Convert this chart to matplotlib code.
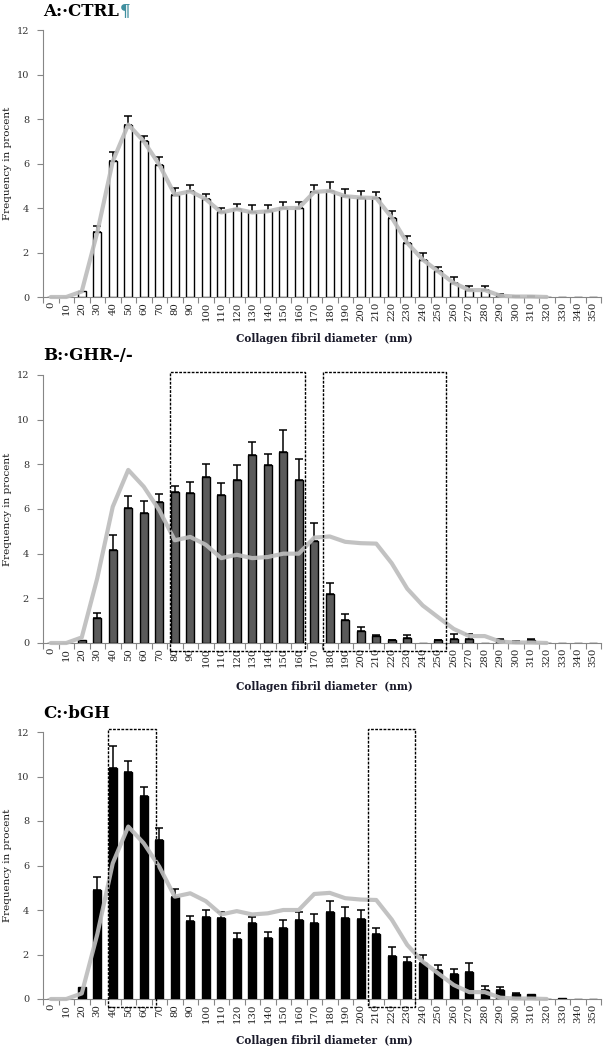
import matplotlib.pyplot as plt
import numpy as np
from matplotlib.patches import Rectangle

diameters = [str(d) for d in range(0, 360, 10)]

ctrl = [0, 0, 0.25, 2.9, 6.1, 7.75, 7.0, 5.95, 4.6, 4.75, 4.4, 3.8, 3.95, 3.8, 3.85, 4.0, 4.0, 4.72,
        4.77, 4.53, 4.47, 4.45, 3.57, 2.43, 1.68, 1.15, 0.63, 0.31, 0.31, 0.06, 0.02, 0.02, 0, 0, 0, 0]
ctrl_sem = [0, 0, 0, 0.3, 0.4, 0.4, 0.25, 0.35, 0.3, 0.3, 0.25, 0.2, 0.25, 0.35, 0.3, 0.25, 0.25, 0.33,
            0.4, 0.32, 0.3, 0.27, 0.3, 0.31, 0.3, 0.18, 0.27, 0.2, 0.2, 0.06, 0.04, 0.04, 0, 0, 0, 0]

ghr = [0, 0, 0.12, 1.1, 4.15, 6.05, 5.8, 6.3, 6.75, 6.7, 7.45, 6.62, 7.32, 8.42, 7.97, 8.55, 7.32, 4.56,
       2.18, 1.05, 0.52, 0.31, 0.12, 0.21, 0, 0.12, 0.2, 0.2, 0, 0.12, 0, 0.12, 0, 0, 0, 0]
ghr_sem = [0, 0, 0, 0.25, 0.7, 0.55, 0.55, 0.35, 0.3, 0.5, 0.55, 0.55, 0.63, 0.58, 0.5, 1.0, 0.93, 0.82,
           0.51, 0.24, 0.2, 0.04, 0.03, 0.14, 0, 0.02, 0.2, 0.19, 0, 0.06, 0.07, 0.08, 0, 0, 0, 0]

bgh = [0, 0, 0.55, 4.9, 10.4, 10.2, 9.12, 7.14, 4.6, 3.51, 3.7, 3.66, 2.69, 3.4, 2.73, 3.2, 3.53, 3.4,
       3.92, 3.63, 3.59, 2.94, 1.94, 1.67, 1.61, 1.32, 1.12, 1.23, 0.39, 0.39, 0.24, 0.21, 0, 0.05, 0, 0]
bgh_sem = [0, 0, 0, 0.6, 0.95, 0.5, 0.43, 0.56, 0.35, 0.24, 0.3, 0.24, 0.26, 0.3, 0.27, 0.35, 0.37, 0.4,
           0.48, 0.51, 0.43, 0.24, 0.38, 0.24, 0.36, 0.22, 0.24, 0.38, 0.21, 0.15, 0.03, 0, 0, 0, 0, 0]

# ctrl reference curve runs from 0 to 320 nm
ctrl_line = ctrl[:33]

titles = ["A:·CTRL", "B:·GHR-/-", "C:·bGH"]

plt.rcParams['font.family'] = ['DejaVu Serif']
AXIS_GREY = '#868686'


def draw_panel(fig, rect, values, sem, face, title, title_y, xlabel_y, boxes, pilcrow=False):
    ax = fig.add_axes(rect)
    x = np.arange(len(values))
    ax.bar(x, values, width=0.5, color=face, edgecolor='black', linewidth=1.0, zorder=2)
    sem = np.array(sem)
    vals = np.array(values)
    m = sem > 0
    ax.errorbar(x[m], vals[m], yerr=[np.zeros(m.sum()), sem[m]], fmt='none', ecolor='black',
                elinewidth=1.1, capsize=2.6, capthick=1.1, zorder=3)
    ax.plot(np.arange(len(ctrl_line)), ctrl_line, color='#bdbdbd', lw=3, alpha=0.92,
            solid_capstyle='round', zorder=4, clip_on=False)

    ax.set_xlim(-0.5, len(values) - 0.5)
    ax.set_ylim(0, 12)
    ax.set_yticks(range(0, 13, 2))
    ax.set_xticks(x)
    ax.set_xticklabels(diameters, rotation=90, fontsize=7.3, color='#222222')
    ax.set_xticks(np.arange(-0.5, len(values)), minor=True)
    ax.tick_params(axis='x', which='major', length=0, pad=3.5)
    ax.tick_params(axis='x', which='minor', length=4, color=AXIS_GREY, width=0.8)
    ax.tick_params(axis='y', length=4, color=AXIS_GREY, width=0.8, labelsize=7, labelcolor='#333333', pad=6)
    for s in ['top', 'right']:
        ax.spines[s].set_visible(False)
    for s in ['left', 'bottom']:
        ax.spines[s].set_color(AXIS_GREY)
        ax.spines[s].set_linewidth(0.8)
        ax.spines[s].set_zorder(1)

    ax.set_ylabel("Frequency in procent", fontsize=7.5, color='#1a1a1a', labelpad=3)
    fig.text(0.536, xlabel_y, "Collagen fibril diameter  (nm)", fontsize=7.6, fontweight='bold',
             ha='center', va='center', color='#1a1a2a')
    t = fig.text(0.072, title_y, title, fontsize=12, fontweight='bold', ha='left', va='center')
    if pilcrow:
        ax.annotate("¶", xy=(1, 0.5), xycoords=t, va='center', ha='left', fontsize=12,
                    fontweight='bold', color='#3f8f9f')

    for x0, x1 in boxes:
        ax.add_patch(Rectangle((x0, -0.38), x1 - x0, 12.5, fill=False, edgecolor='black',
                               linestyle=(0, (2, 1)), linewidth=1.0, clip_on=False, zorder=5))
    return ax


fig = plt.figure(figsize=(6.05, 10.5), dpi=100)
W = 558 / 605
L = 43 / 605
draw_panel(fig, [L, 1 - 297 / 1050, W, 267 / 1050], ctrl, ctrl_sem, 'white', titles[0],
           1 - 11 / 1050, 1 - 339 / 1050, [], pilcrow=True)
draw_panel(fig, [L, 1 - 643 / 1050, W, 268 / 1050], ghr, ghr_sem, '#5a5a5a', titles[1],
           1 - 356 / 1050, 1 - 686 / 1050, [(7.7, 16.4), (17.56, 25.5)])
draw_panel(fig, [L, 1 - 999 / 1050, W, 267 / 1050], bgh, bgh_sem, 'black', titles[2],
           1 - 713 / 1050, 1 - 1041 / 1050, [(3.7, 6.8), (20.47, 23.5)])

fig.savefig("out.png", dpi=100)
